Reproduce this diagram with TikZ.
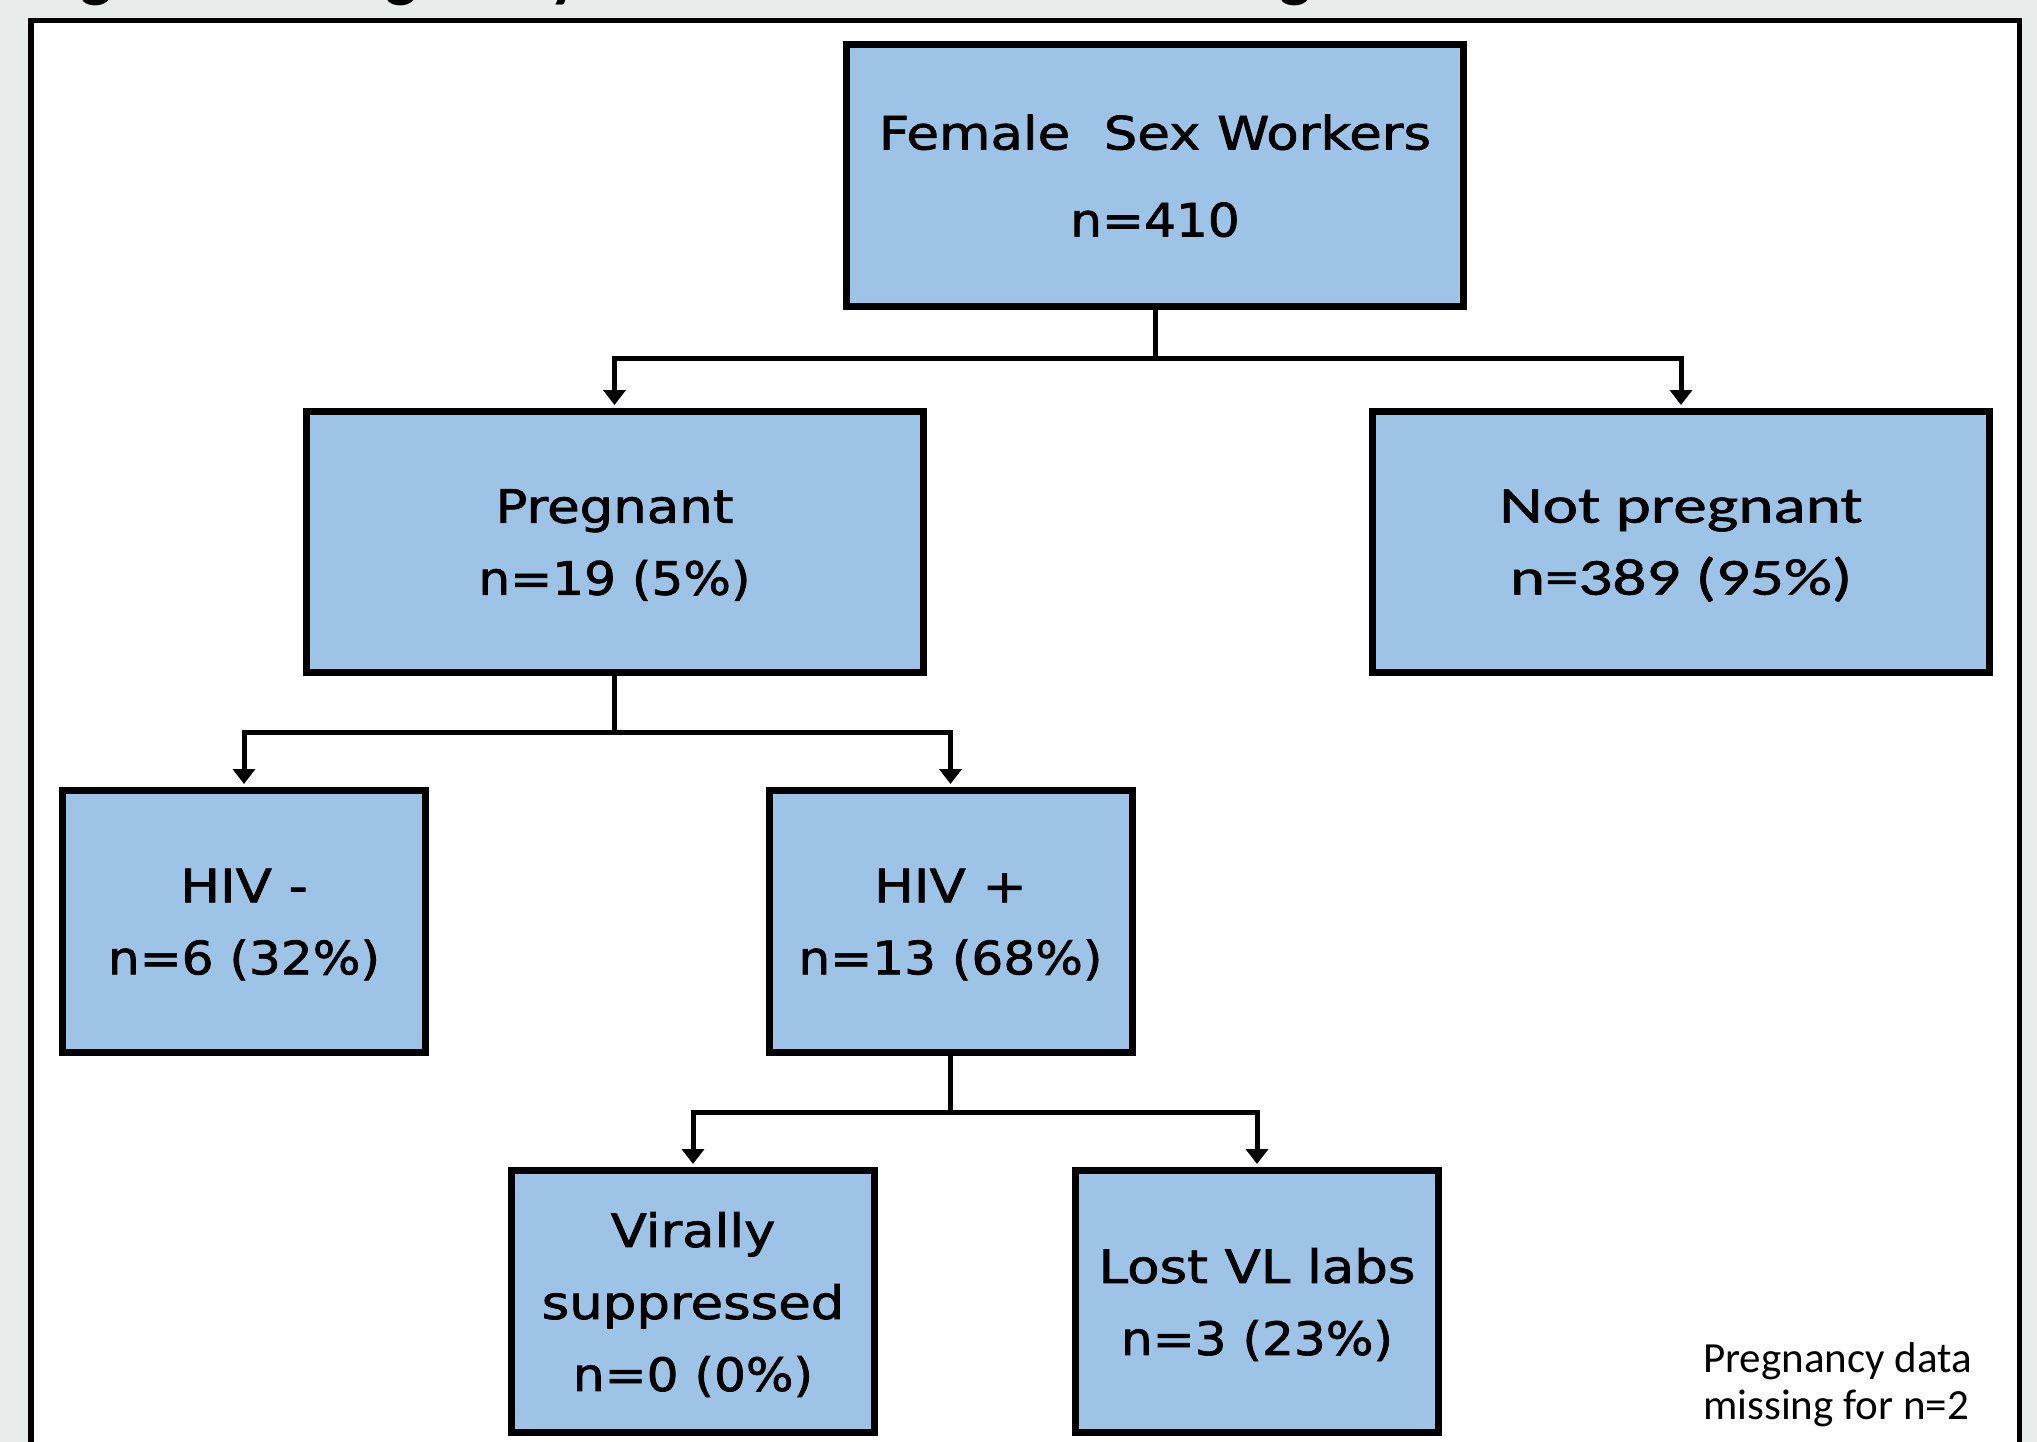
\documentclass[tikz,border=0pt]{standalone}
\usepackage{fontspec}
\usepackage{graphicx}
\setmainfont{DejaVu Sans}
\newfontfamily\boxfont{DejaVu Sans}[FakeBold=1.5]
\newfontfamily\carlitofont{Carlito}
\newfontfamily\carlitoboxfont{Carlito}[FakeBold=1]
\usetikzlibrary{arrows.meta}
\definecolor{boxblue}{HTML}{9DC3E6}
\definecolor{pagegray}{HTML}{E8ECEB}
\newcommand{\wordln}[1]{\scalebox{1.15}[1]{#1}}
\newcommand{\numln}[1]{\raisebox{0pt}[\height][0pt]{\scalebox{1.09}[1]{#1}}}
\newcommand{\calln}[1]{\scalebox{1.29}[1]{#1}}
\newcommand{\callnlast}[1]{\raisebox{0pt}[\height][0pt]{\scalebox{1.29}[1]{#1}}}
\begin{document}
\begin{tikzpicture}[x=1pt,y=-1pt,
  boxstyle/.style={draw=black, line width=7pt, fill=boxblue, inner sep=0pt, align=center,
    font=\boxfont\fontsize{46}{72}\selectfont},
  bigbox/.style={boxstyle, minimum width=617pt, minimum height=261pt},
  smallbox/.style={boxstyle, minimum width=363pt, minimum height=262pt},
  connline/.style={line width=5pt},
  conn/.style={line width=5pt, -{Triangle[width=22pt,length=15pt]}, shorten >=3pt},
  titlestyle/.style={anchor=base west, inner sep=0pt, font=\carlitofont\bfseries\fontsize{67}{80}\selectfont},
  notestyle/.style={anchor=base west, inner sep=0pt, font=\carlitofont\fontsize{43}{47}\selectfont}
]
\useasboundingbox (0,0) rectangle (2037,1442);
\clip (0,0) rectangle (2037,1442);
\fill[pagegray] (0,0) rectangle (2037,1442);
\draw[line width=5.5pt, fill=white] (31,20.5) rectangle (2019.5,1480);
\node[titlestyle] (title) at (33,-5) {Figure 1: Pregnancy and HIV outcomes among FSW};

\node[bigbox, font=\boxfont\fontsize{46}{87}\selectfont] (fsw) at (1155,175.5) {\wordln{Female\ \ Sex Workers}\\\numln{n=410}};
\node[bigbox] (preg) at (614.5,542) {\wordln{Pregnant}\\\numln{n=19 (5\%)}};
\node[bigbox, font=\carlitoboxfont\fontsize{52}{72}\selectfont] (notp) at (1681,542) {\calln{Not pregnant}\\\callnlast{n=389 (95\%)}};
\node[smallbox] (hivneg) at (244,921.5) {\wordln{HIV -}\\\numln{n=6 (32\%)}};
\node[smallbox] (hivpos) at (950.5,921.5) {\wordln{HIV +}\\\numln{n=13 (68\%)}};
\node[smallbox] (vsup) at (693,1301.5) {\wordln{Virally}\\\wordln{suppressed}\\\numln{n=0 (0\%)}};
\node[smallbox] (lost) at (1257,1301.5) {\wordln{Lost VL labs}\\\numln{n=3 (23\%)}};

\node[notestyle] (note) at (1703,1372) {\vtop{\hbox{Pregnancy data}\hbox{missing for n=2}}};

\coordinate (j1) at (1155,358);
\coordinate (j2) at (614.5,732);
\coordinate (j3) at (950.5,1112);
\draw[connline] (fsw.south) -- (j1);
\draw[conn] (j1) -| (preg.north);
\draw[conn] (j1) -| (notp.north);
\draw[connline] (preg.south) -- (j2);
\draw[conn] (j2) -| (hivneg.north);
\draw[conn] (j2) -| (hivpos.north);
\draw[connline] (hivpos.south) -- (j3);
\draw[conn] (j3) -| (vsup.north);
\draw[conn] (j3) -| (lost.north);
\end{tikzpicture}
\end{document}
